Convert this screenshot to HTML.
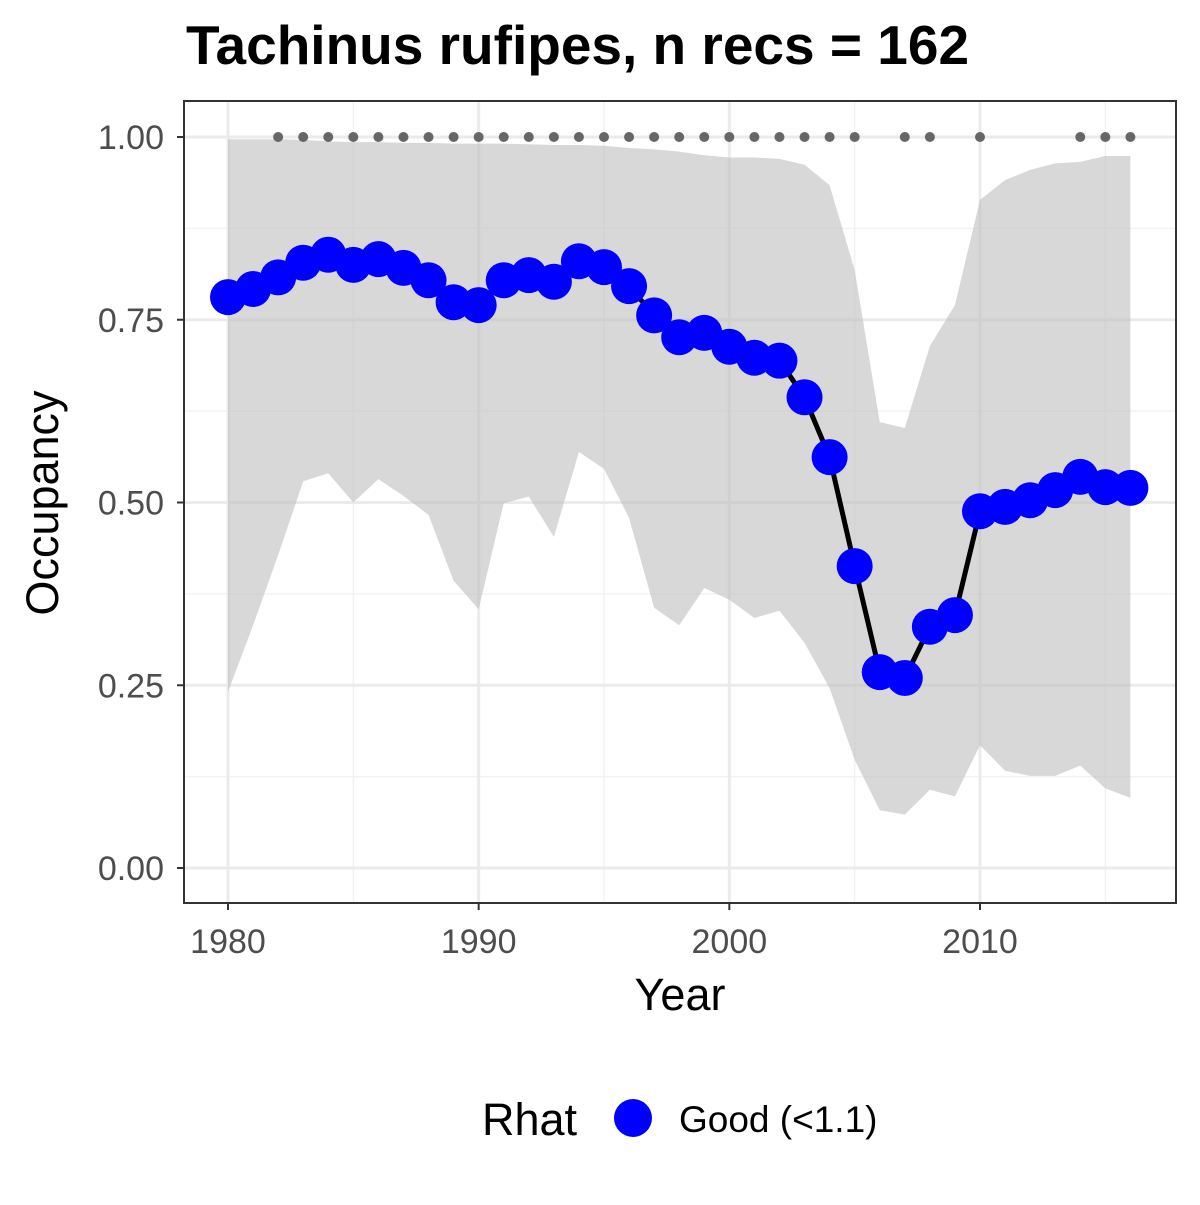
<!DOCTYPE html>
<html><head><meta charset="utf-8"><style>
body{margin:0;background:#fff;}
svg text{font-family:"Liberation Sans",Arial,sans-serif;}
</style></head><body>
<svg id="chart" width="1200" height="1200" xmlns="http://www.w3.org/2000/svg">
<rect width="1200" height="1200" fill="#fff"/>
<text x="186" y="64" font-size="55" font-weight="bold" fill="#000">Tachinus rufipes, n recs = 162</text>
<g id="grid"></g>
<g id="band"></g>
<g id="marks"></g>
<rect x="184" y="101" width="992" height="802" fill="none" stroke="#333" stroke-width="2"/>
<g id="axes"></g>
<text x="680" y="1010" font-size="45" text-anchor="middle" fill="#000">Year</text>
<text transform="translate(58,503) rotate(-90)" font-size="45" text-anchor="middle" fill="#000">Occupancy</text>
<g>
<text x="482" y="1135" font-size="45" fill="#000">Rhat</text>
<circle cx="633" cy="1118" r="19" fill="#0000ff"/>
<text x="679" y="1132" font-size="37" fill="#000">Good (&lt;1.1)</text>
</g>
</svg>
<script>
const years=[1980,1981,1982,1983,1984,1985,1986,1987,1988,1989,1990,1991,1992,1993,1994,1995,1996,1997,1998,1999,2000,2001,2002,2003,2004,2005,2006,2007,2008,2009,2010,2011,2012,2013,2014,2015,2016];
const occupancy=[0.781,0.792,0.808,0.828,0.839,0.825,0.833,0.821,0.804,0.774,0.770,0.804,0.811,0.802,0.830,0.822,0.796,0.756,0.726,0.732,0.713,0.698,0.694,0.644,0.562,0.413,0.268,0.260,0.330,0.346,0.488,0.494,0.503,0.517,0.535,0.521,0.520];
const upper=[0.997,0.997,0.997,0.996,0.994,0.993,0.993,0.992,0.992,0.991,0.991,0.991,0.990,0.989,0.989,0.988,0.985,0.983,0.980,0.975,0.972,0.972,0.970,0.962,0.934,0.818,0.610,0.602,0.714,0.770,0.914,0.941,0.955,0.964,0.966,0.974,0.974];
const lower=[0.241,0.332,0.428,0.529,0.540,0.500,0.532,0.509,0.483,0.393,0.354,0.499,0.508,0.453,0.569,0.546,0.479,0.356,0.332,0.383,0.367,0.342,0.352,0.308,0.246,0.148,0.079,0.073,0.107,0.098,0.168,0.133,0.126,0.126,0.140,0.109,0.096];
const recordYears=[1982,1983,1984,1985,1986,1987,1988,1989,1990,1991,1992,1993,1994,1995,1996,1997,1998,1999,2000,2001,2002,2003,2004,2005,2007,2008,2010,2014,2015,2016];
const xTicks=[1980,1990,2000,2010];
const yTicks=[0,0.25,0.5,0.75,1];
const yTickLabels=["0.00","0.25","0.50","0.75","1.00"];

const NS="http://www.w3.org/2000/svg";
const X=y=>228+(y-1980)*(980-228)/30;
const Y=v=>868-v*731;
function mk(tag,attrs,parent){const e=document.createElementNS(NS,tag);for(const k in attrs)e.setAttribute(k,attrs[k]);parent.appendChild(e);return e;}
const grid=document.getElementById('grid'),band=document.getElementById('band'),marks=document.getElementById('marks'),axes=document.getElementById('axes');
mk('rect',{x:184,y:101,width:992,height:802,fill:'#fff'},grid);
for(let i=0;i<yTicks.length-1;i++){const v=(yTicks[i]+yTicks[i+1])/2;const l=mk('line',{x1:184,x2:1176,y1:Y(v),y2:Y(v),stroke:'#f2f2f2','stroke-width':1.5},grid);

}
for(let t=1975;t<=2015;t+=10){if(X(t)>184&&X(t)<1176){const l=mk('line',{x1:X(t),x2:X(t),y1:101,y2:903,stroke:'#f2f2f2','stroke-width':1.5},grid);

}}
yTicks.forEach((v,i)=>{const l=mk('line',{x1:184,x2:1176,y1:Y(v),y2:Y(v),stroke:'#ebebeb','stroke-width':3},grid);


const tk=mk('line',{x1:177,x2:184,y1:Y(v),y2:Y(v),stroke:'#333','stroke-width':2},axes);


const tx=mk('text',{x:164,y:Y(v)+12,'font-size':34,'text-anchor':'end',fill:'#4d4d4d'},axes);tx.textContent=yTickLabels[i];

});
xTicks.forEach(t=>{const l=mk('line',{x1:X(t),x2:X(t),y1:101,y2:903,stroke:'#ebebeb','stroke-width':3},grid);


const tk=mk('line',{x1:X(t),x2:X(t),y1:903,y2:910,stroke:'#333','stroke-width':2},axes);


const tx=mk('text',{x:X(t),y:953,'font-size':34,'text-anchor':'middle',fill:'#4d4d4d'},axes);tx.textContent=t;

});
let d=years.map((y,i)=>(i?'L':'M')+X(y)+','+Y(upper[i])).join('');
for(let i=years.length-1;i>=0;i--)d+='L'+X(years[i])+','+Y(lower[i]);
const p=mk('path',{d:d+'Z',fill:'#bebebe','fill-opacity':0.6},band);


const ln=mk('polyline',{points:years.map((y,i)=>X(y)+','+Y(occupancy[i])).join(' '),fill:'none',stroke:'#000','stroke-width':5},marks);


years.forEach((y,i)=>{const c=mk('circle',{cx:X(y),cy:Y(occupancy[i]),r:18,fill:'#0000ff'},marks);

});
recordYears.forEach(y=>{const c=mk('circle',{cx:X(y),cy:Y(1),r:5,fill:'#666'},marks);

});
</script>
</body></html>
